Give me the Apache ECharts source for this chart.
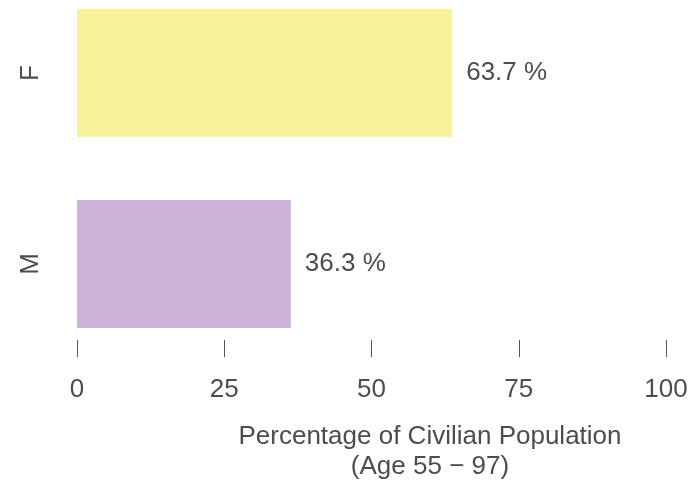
<!DOCTYPE html>
<html>
<head>
<meta charset="utf-8">
<script src="https://cdn.jsdelivr.net/npm/echarts@6/dist/echarts.min.js"></script>
<style>
html,body{margin:0;padding:0;background:#fff;}
#chart{width:698px;height:484px;}
</style>
</head>
<body>
<div id="chart"></div>
<script>
const categories = ['M', 'F'];
const values = [36.3, 63.7];
const barColors = ['#CBB2D6', '#F9F29C'];
const xTicks = [0, 25, 50, 75, 100];
const axisTitle = 'Percentage of Civilian Population\n(Age 55 \u2212 97)';

const FONT = "'Liberation Sans', Arial, Helvetica, sans-serif";
const TXT = '#4d4d4d';

const chart = echarts.init(document.getElementById('chart'), null, {renderer: 'canvas'});
chart.setOption({
  animation: false,
  backgroundColor: '#ffffff',
  title: {
    text: axisTitle,
    left: 430,
    top: 422,
    textAlign: 'center',
    padding: 0,
    textStyle: {
      fontFamily: FONT, fontSize: 26, fontWeight: 'normal', color: TXT, lineHeight: 30
    }
  },
  grid: {left: 77, right: 32, top: -22.5, bottom: 124.5, containLabel: false, outerBoundsMode: 'none'},
  xAxis: {
    type: 'value',
    min: xTicks[0],
    max: xTicks[xTicks.length - 1],
    interval: 25,
    offset: -19.5,
    axisLine: {show: false},
    splitLine: {show: false},
    axisTick: {show: true, length: 17, lineStyle: {color: '#555', width: 1}},
    axisLabel: {margin: 37, fontFamily: FONT, fontSize: 26, color: TXT}
  },
  yAxis: {
    type: 'category',
    data: categories,
    axisLine: {show: false},
    axisTick: {show: false},
    splitLine: {show: false},
    axisLabel: {rotate: 90, margin: 33, fontFamily: FONT, fontSize: 26, color: TXT}
  },
  series: [{
    type: 'bar',
    data: values.map((v, i) => ({value: v, itemStyle: {color: barColors[i]}})),
    barCategoryGap: '33%',
    label: {
      show: true,
      position: 'right',
      distance: 14,
      formatter: p => p.value.toFixed(1) + ' %',
      fontFamily: FONT, fontSize: 26, color: TXT
    }
  }]
});
</script>
</body>
</html>
